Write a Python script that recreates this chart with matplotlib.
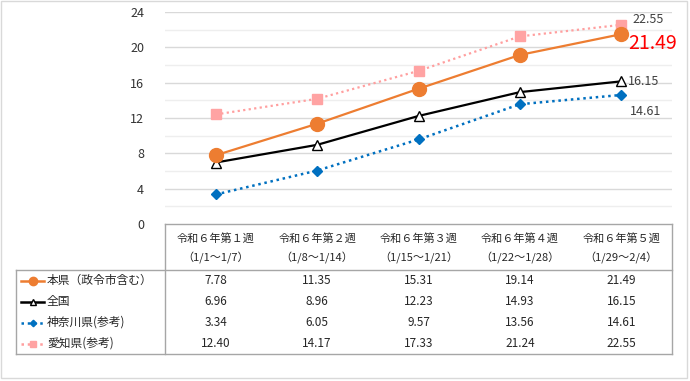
import matplotlib
matplotlib.use("Agg")
import matplotlib.pyplot as plt
from matplotlib.lines import Line2D
from matplotlib.patches import Rectangle

plt.rcParams['font.family'] = ['Noto Sans CJK JP', 'DejaVu Sans']

weeks = ["令和６年第１週", "令和６年第２週", "令和６年第３週", "令和６年第４週", "令和６年第５週"]
periods = ["（1/1～1/7）", "（1/8～1/14）", "（1/15～1/21）", "（1/22～1/28）", "（1/29～2/4）"]
series_names = ["本県（政令市含む）", "全国", "神奈川県(参考)", "愛知県(参考)"]
honken = [7.78, 11.35, 15.31, 19.14, 21.49]
zenkoku = [6.96, 8.96, 12.23, 14.93, 16.15]
kanagawa = [3.34, 6.05, 9.57, 13.56, 14.61]
aichi = [12.40, 14.17, 17.33, 21.24, 22.55]
yticks = [0, 4, 8, 12, 16, 20, 24]

W, H = 690, 381
fig = plt.figure(figsize=(W / 100, H / 100), dpi=100)

def fx(px):
    return px / W

def fy(py):
    return 1 - py / H

ax_l, ax_r, ax_t, ax_b = 165, 672, 12, 224
ax = fig.add_axes([fx(ax_l), fy(ax_b), fx(ax_r) - fx(ax_l), fy(ax_t) - fy(ax_b)])
ax.set_xlim(-0.5, 4.5)
ax.set_ylim(0, 24)
for s in ax.spines.values():
    s.set_visible(False)
ax.set_xticks([])
ax.set_yticks(yticks)
ax.set_yticklabels([str(v) for v in yticks], fontsize=9, color="#333333")
ax.tick_params(axis='y', length=0, pad=15)
for v in range(2, 25, 2):
    ax.axhline(v, color="#d9d9d9" if v % 4 == 0 else "#eeeeee", lw=1, zorder=0)

x = list(range(5))
styles = [
    dict(color="#ED7D31", ls="-", lw=1.6, marker="o", ms=10, mfc="#ED7D31", mec="#ED7D31"),
    dict(color="black", ls="-", lw=1.6, marker="^", ms=7.5, mfc="white", mec="black", mew=1),
    dict(color="#0070C0", ls=(0, (1, 1.5)), lw=1.8, marker="D", ms=5.5, mfc="#0070C0", mec="#0070C0"),
    dict(color="#FF9F9F", ls=(0, (1, 1.5)), lw=1.6, marker="s", ms=7, mfc="#FFA3A3", mec="#FFA3A3"),
]
data = [honken, zenkoku, kanagawa, aichi]
order = [3, 2, 1, 0]
for i in order:
    ax.plot(x, data[i], zorder=3 + (3 - i), **styles[i])

ax.annotate(f"{aichi[-1]:.2f}", (4, aichi[-1]), xytext=(8, 4), textcoords="offset points",
            fontsize=9, color="#404040", va="center", ha="left")
ax.annotate(f"{honken[-1]:.2f}", (4, honken[-1]), xytext=(5, -7), textcoords="offset points",
            fontsize=14, color="#FF0000", va="center", ha="left")
ax.annotate(f"{zenkoku[-1]:.2f}", (4, zenkoku[-1]), xytext=(5, 0), textcoords="offset points",
            fontsize=9, color="#404040", va="center", ha="left")
ax.annotate(f"{kanagawa[-1]:.2f}", (4, kanagawa[-1]), xytext=(6, -12), textcoords="offset points",
            fontsize=9, color="#404040", va="center", ha="left")

# table
grid_c = "#a6a6a6"
tl, td, tr = 16, 165, 672
t_top, h_bot, t_bot = 224, 270, 354
row_h = (t_bot - h_bot) / 4

def hline(y, x0, x1):
    fig.add_artist(Line2D([fx(x0), fx(x1)], [fy(y), fy(y)], color=grid_c, lw=1))

def vline(xp, y0, y1):
    fig.add_artist(Line2D([fx(xp), fx(xp)], [fy(y0), fy(y1)], color=grid_c, lw=1))

hline(t_top, td, tr)
hline(h_bot, tl, tr)
hline(t_bot, tl, tr)
vline(tl, h_bot, t_bot)
vline(td, t_top, t_bot)
vline(tr, t_top, t_bot)

colw = (tr - td) / 5
for j in range(5):
    cx = td + colw * (j + 0.5)
    fig.text(fx(cx), fy(238), weeks[j], fontsize=8, ha="center", va="center", color="#262626")
    fig.text(fx(cx), fy(258), periods[j], fontsize=8, ha="center", va="center", color="#262626")
    for i in range(4):
        cy = h_bot + row_h * (i + 0.5)
        fig.text(fx(cx), fy(cy), f"{data[i][j]:.2f}", fontsize=8.5, ha="center", va="center", color="#262626")

for i in range(4):
    cy = h_bot + row_h * (i + 0.5)
    st = styles[i]
    fig.add_artist(Line2D([fx(21), fx(44)], [fy(cy), fy(cy)], color=st["color"], ls=st["ls"], lw=1.8))
    fig.add_artist(Line2D([fx(32.5)], [fy(cy)], marker=st["marker"], ms=st["ms"] * 0.6,
                          mfc=st["mfc"], mec=st["mec"], ls="none"))
    fig.text(fx(47), fy(cy), series_names[i], fontsize=8.5, ha="left", va="center", color="#262626")

fig.add_artist(Rectangle((fx(1), fy(378)), fx(687) - fx(1), fy(1) - fy(378), fill=False,
                         ec="#d9d9d9", lw=1))

fig.savefig("out.png", dpi=100)
